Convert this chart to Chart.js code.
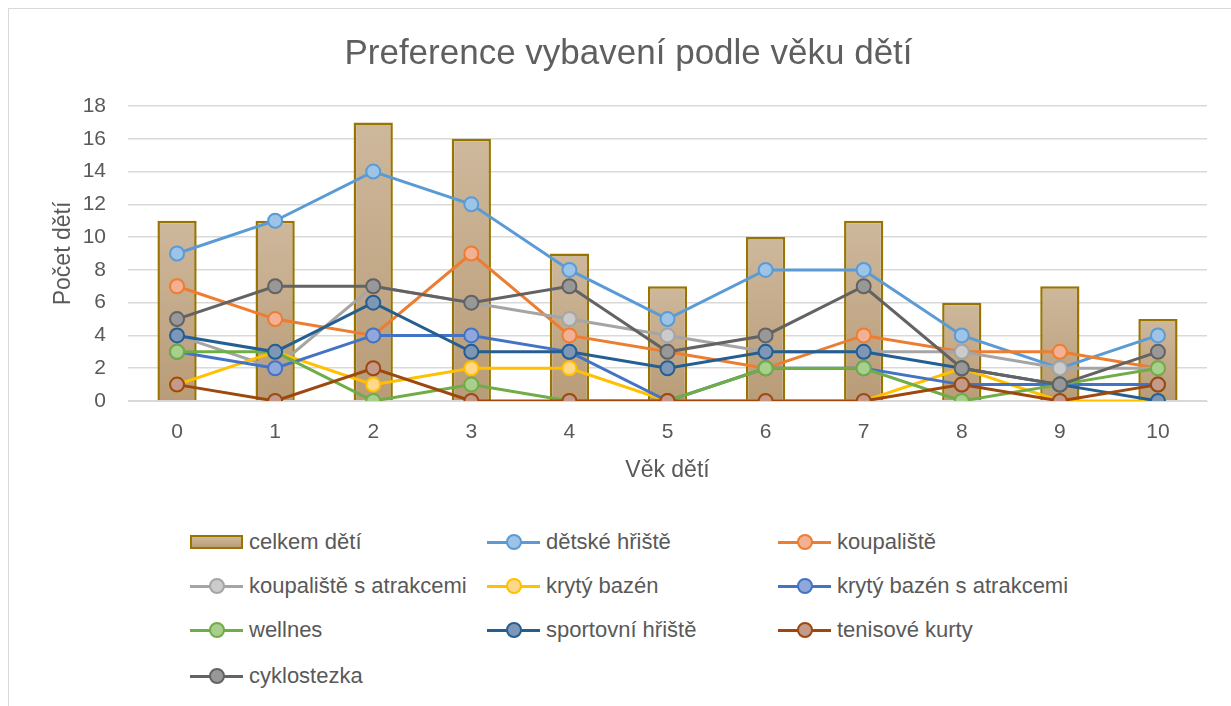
<!DOCTYPE html>
<html>
<head>
<meta charset="utf-8">
<script src="https://cdn.jsdelivr.net/npm/chart.js@4"></script>
<style>
  body { margin: 0; background: #fff; }
  #wrap { position: relative; width: 1231px; height: 706px; overflow: hidden; font-family: "Liberation Sans", Arial, sans-serif; }
  #frame { position: absolute; left: 8px; top: 8px; width: 1240px; height: 720px; border: 1px solid #d9d9d9; }
  #chartBox { position: absolute; left: 0; top: 0; width: 1231px; height: 495px; }
  .item { position: absolute; height: 26px; display: flex; align-items: center; color: #595959; font-size: 22px; white-space: nowrap; }
  .icon { position: relative; width: 53px; height: 16px; margin-right: 6px; }
  .icon .ln { position: absolute; left: 0; right: 0; top: 6.5px; height: 3px; }
  .icon .dot { position: absolute; left: 19px; top: 0; width: 12px; height: 12px; border-radius: 50%; border: 2px solid; }
  .icon .bx { position: absolute; left: 0; top: 1px; width: 49px; height: 10px; border: 2px solid #9a7400; background: linear-gradient(#cdb89c, #b99d78); }
</style>
</head>
<body>
<div id="wrap">
  <div id="frame"></div>
  <div id="chartBox"><canvas id="c"></canvas></div>
  <div id="legend"></div>
</div>
<script>
// Data
const ages = ['0', '1', '2', '3', '4', '5', '6', '7', '8', '9', '10'];
const celkemDeti = [11, 11, 17, 16, 9, 7, 10, 11, 6, 7, 5];
const detskeHriste = [9, 11, 14, 12, 8, 5, 8, 8, 4, 2, 4];
const koupaliste = [7, 5, 4, 9, 4, 3, 2, 4, 3, 3, 2];
const koupalisteAtrakce = [4, 2, 7, 6, 5, 4, 3, 3, 3, 2, 2];
const krytyBazen = [1, 3, 1, 2, 2, 0, 0, 0, 2, 0, 0];
const krytyBazenAtrakce = [3, 2, 4, 4, 3, 0, 2, 2, 1, 1, 1];
const wellnes = [3, 3, 0, 1, 0, 0, 2, 2, 0, 1, 2];
const sportovniHriste = [4, 3, 6, 3, 3, 2, 3, 3, 2, 1, 0];
const tenisoveKurty = [1, 0, 2, 0, 0, 0, 0, 0, 1, 0, 1];
const cyklostezka = [5, 7, 7, 6, 7, 3, 4, 7, 2, 1, 3];

const lineSeries = [
  { label: 'dětské hřiště', data: detskeHriste, color: '#5b9bd5', fill: '#9dc3e6' },
  { label: 'koupaliště', data: koupaliste, color: '#ed7d31', fill: '#f4b094' },
  { label: 'koupaliště s atrakcemi', data: koupalisteAtrakce, color: '#a5a5a5', fill: '#cbcbcb' },
  { label: 'krytý bazén', data: krytyBazen, color: '#ffc000', fill: '#ffd88a' },
  { label: 'krytý bazén s atrakcemi', data: krytyBazenAtrakce, color: '#4472c4', fill: '#8fa8dc' },
  { label: 'wellnes', data: wellnes, color: '#70ad47', fill: '#a8cf8e' },
  { label: 'sportovní hřiště', data: sportovniHriste, color: '#255e91', fill: '#7f97b6' },
  { label: 'tenisové kurty', data: tenisoveKurty, color: '#9e480e', fill: '#c49a8a' },
  { label: 'cyklostezka', data: cyklostezka, color: '#636363', fill: '#989898' }
];

function barFill(ctx) {
  const chart = ctx.chart;
  const y = chart.scales.y;
  if (!chart.chartArea || !y) return '#c2a785';
  const top = y.getPixelForValue(ctx.raw || 0);
  const bottom = y.getPixelForValue(0);
  const g = chart.ctx.createLinearGradient(0, top, 0, bottom);
  g.addColorStop(0, '#ceb89c');
  g.addColorStop(1, '#b99c77');
  return g;
}

const datasets = [{
  type: 'bar',
  label: 'celkem dětí',
  data: celkemDeti,
  backgroundColor: barFill,
  borderColor: '#9a7400',
  borderWidth: 2.5,
  barPercentage: 0.8,
  categoryPercentage: 0.5,
  order: 100
}];
lineSeries.forEach((s, i) => {
  datasets.push({
    type: 'line',
    label: s.label,
    data: s.data,
    borderColor: s.color,
    backgroundColor: s.fill,
    borderWidth: 3,
    pointRadius: 7,
    pointBorderWidth: 2,
    pointBorderColor: s.color,
    pointBackgroundColor: s.fill,
    tension: 0,
    fill: false,
    order: 50 - i
  });
});

const font = "'Liberation Sans', Arial, sans-serif";
new Chart(document.getElementById('c'), {
  data: { labels: ages, datasets: datasets },
  options: {
    responsive: true,
    maintainAspectRatio: false,
    animation: false,
    layout: { padding: { left: 50, right: 24, top: 0, bottom: 0 } },
    plugins: {
      legend: { display: false },
      tooltip: { enabled: false },
      title: {
        display: true,
        text: 'Preference vybavení podle věku dětí',
        color: '#5f5f5f',
        font: { family: font, size: 35, weight: 'normal' },
        padding: { top: 33, bottom: 31 }
      }
    },
    scales: {
      x: {
        grid: { display: false, drawTicks: false },
        border: { color: '#d9d9d9', width: 1 },
        ticks: { color: '#595959', font: { family: font, size: 21 }, padding: 19 },
        title: { display: true, text: 'Věk dětí', color: '#595959', font: { family: font, size: 23 }, padding: { top: 8, bottom: 11 } },
        afterFit: s => { s.height = 94; }
      },
      y: {
        min: 0, max: 18,
        ticks: { stepSize: 2, color: '#595959', font: { family: font, size: 21 }, padding: 22 },
        grid: { color: '#d9d9d9', lineWidth: 1.5, drawTicks: false },
        border: { display: false },
        title: { display: true, text: 'Počet dětí', color: '#595959', font: { family: font, size: 23 }, padding: { top: 0, bottom: 0 } },
        afterFit: s => { s.width = 78; }
      }
    }
  }
});

// Legend built from the same series
const legendItems = [{ label: 'celkem dětí', bar: true }].concat(lineSeries);
const colX = [190, 487, 778];
const rowY = [542, 586, 630, 676];
const legend = document.getElementById('legend');
legendItems.forEach((it, i) => {
  const el = document.createElement('div');
  el.className = 'item';
  el.style.left = colX[i % 3] + 'px';
  el.style.top = (rowY[Math.floor(i / 3)] - 13) + 'px';
  let icon;
  if (it.bar) {
    icon = '<div class="icon"><div class="bx"></div></div>';
  } else {
    icon = '<div class="icon"><div class="ln" style="background:' + it.color + '"></div>' +
      '<div class="dot" style="border-color:' + it.color + ';background:' + it.fill + '"></div></div>';
  }
  el.innerHTML = icon + '<span>' + it.label + '</span>';
  legend.appendChild(el);
});
</script>
</body>
</html>
